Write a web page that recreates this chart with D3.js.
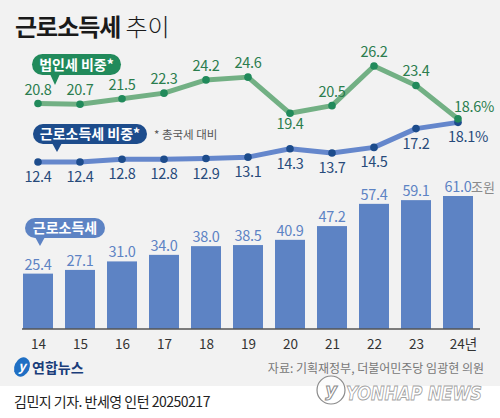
<!DOCTYPE html>
<html>
<head>
<meta charset="utf-8">
<script src="https://cdn.jsdelivr.net/npm/d3@7"></script>
<style>
  html, body { margin: 0; padding: 0; background: #fff; }
  svg { display: block; font-family: 'Noto Sans CJK KR', 'Noto Sans', sans-serif; }
</style>
</head>
<body>
<div id="chart"></div>
<script>
const years = ['14', '15', '16', '17', '18', '19', '20', '21', '22', '23', '24'];
const corpShare = [20.8, 20.7, 21.5, 22.3, 24.2, 24.6, 19.4, 20.5, 26.2, 23.4, 18.6];
const laborShare = [12.4, 12.4, 12.8, 12.8, 12.9, 13.1, 14.3, 13.7, 14.5, 17.2, 18.1];
const laborTax = [25.4, 27.1, 31.0, 34.0, 38.0, 38.5, 40.9, 47.2, 57.4, 59.1, 61.0];

const width = 500, height = 418;
const green = '#218a5b', greenLine = '#72b084', greenText = '#2b7d4e';
const navy = '#1d4c8c', blueLine = '#6587cc', navyText = '#274a7a';
const barColor = '#5d83c4';

const svg = d3.select('#chart').append('svg')
    .attr('width', width)
    .attr('height', height);

svg.append('rect')
    .attr('width', width)
    .attr('height', 386)
    .attr('fill', '#f2f2f2');

// title
const title = svg.append('text')
    .attr('x', 15)
    .attr('y', 36)
    .attr('font-size', 24)
    .attr('fill', '#1a1a1a');
title.append('tspan').attr('font-weight', 700).attr('letter-spacing', -1).text('근로소득세');
title.append('tspan').attr('font-weight', 300).attr('dx', 5).text('추이');

const x = d3.scalePoint().domain(years).range([38, 458]);
const yLine = d3.scaleLinear().domain([12.4, 26.2]).range([162, 66]);
const yBar = d3.scaleLinear().domain([0, 61]).range([329, 196]);

// bars
svg.append('g').selectAll('rect')
    .data(laborTax)
    .join('rect')
    .attr('x', (d, i) => x(years[i]) - 15)
    .attr('width', 30)
    .attr('y', d => yBar(d))
    .attr('height', d => yBar(0) - yBar(d))
    .attr('fill', barColor);

svg.append('g').selectAll('text')
    .data(laborTax)
    .join('text')
    .attr('x', (d, i) => x(years[i]))
    .attr('y', d => yBar(d) - 4)
    .attr('text-anchor', 'middle')
    .attr('font-size', 14.5)
    .attr('letter-spacing', -0.3)
    .attr('fill', barColor)
    .text(d => d.toFixed(1));

svg.append('text')
    .attr('x', x('24') + 13)
    .attr('y', yBar(61.0) - 4)
    .attr('font-size', 13)
    .attr('fill', '#8a8a8a')
    .text('조원');

// x axis
const axis = svg.append('g')
    .attr('transform', `translate(0,${yBar(0)})`)
    .call(d3.axisBottom(x).tickSize(0).tickPadding(8)
        .tickFormat(d => d === '24' ? '24년' : d));
axis.select('.domain')
    .attr('d', 'M22,0H480')
    .attr('stroke', '#555')
    .attr('stroke-width', 1.5);
axis.selectAll('text')
    .attr('font-family', "'Noto Sans CJK KR', sans-serif")
    .attr('font-size', 13.5)
    .attr('fill', '#333')
    .attr('dy', '0.9em');
axis.selectAll('.tick').filter(d => d === '24').select('text').attr('dx', 5);

// lines
const line = d3.line().x((d, i) => x(years[i])).y(d => yLine(d));

svg.append('path')
    .datum(laborShare)
    .attr('d', line)
    .attr('fill', 'none')
    .attr('stroke', blueLine)
    .attr('stroke-width', 5)
    .attr('stroke-linejoin', 'round');

svg.append('path')
    .datum(corpShare)
    .attr('d', line)
    .attr('fill', 'none')
    .attr('stroke', greenLine)
    .attr('stroke-width', 5)
    .attr('stroke-linejoin', 'round');

svg.append('g').selectAll('circle')
    .data(laborShare)
    .join('circle')
    .attr('cx', (d, i) => x(years[i]))
    .attr('cy', d => yLine(d))
    .attr('r', 3.8)
    .attr('fill', navy);

svg.append('g').selectAll('circle')
    .data(corpShare)
    .join('circle')
    .attr('cx', (d, i) => x(years[i]))
    .attr('cy', d => yLine(d))
    .attr('r', 3.8)
    .attr('fill', green);

// line labels
const last = years.length - 1;
svg.append('g').selectAll('text')
    .data(corpShare)
    .join('text')
    .attr('x', (d, i) => x(years[i]) + (i === last ? 16 : 0))
    .attr('y', (d, i) => yLine(d) + (years[i] === '20' ? 16 : i === last ? -7 : -9))
    .attr('text-anchor', 'middle')
    .attr('font-size', 14.5)
    .attr('letter-spacing', -0.3)
    .attr('fill', greenText)
    .text((d, i) => d.toFixed(1) + (i === last ? '%' : ''));

svg.append('g').selectAll('text')
    .data(laborShare)
    .join('text')
    .attr('x', (d, i) => x(years[i]) + (i === last ? 10 : 0))
    .attr('y', d => yLine(d) + 20)
    .attr('text-anchor', 'middle')
    .attr('font-size', 14.5)
    .attr('letter-spacing', -0.3)
    .attr('fill', navyText)
    .text((d, i) => d.toFixed(1) + (i === last ? '%' : ''));

// callout pills
function pill(x0, y0, w, h, tipX, tipY, fill, label, size) {
    const r = h / 2;
    const g = svg.append('g');
    g.append('rect')
        .attr('x', x0).attr('y', y0)
        .attr('width', w).attr('height', h)
        .attr('rx', r)
        .attr('fill', fill);
    g.append('path')
        .attr('d', `M${tipX - 5},${y0 + h - 1}L${tipX + 5},${y0 + h - 1}L${tipX},${tipY}Z`)
        .attr('fill', fill);
    g.append('text')
        .attr('x', x0 + w / 2)
        .attr('y', y0 + h / 2)
        .attr('dy', '0.36em')
        .attr('text-anchor', 'middle')
        .attr('font-size', size)
        .attr('font-weight', 700)
        .attr('fill', '#fff')
        .text(label);
}

pill(32, 54, 89, 21, 55, 85, green, '법인세 비중*', 14);
pill(33, 124, 114, 20, 57, 152, navy, '근로소득세 비중*', 14);
pill(25, 218, 80, 20, 40, 246, barColor, '근로소득세', 14);

svg.append('text')
    .attr('x', 154)
    .attr('y', 139)
    .attr('font-size', 11.5)
    .attr('fill', '#555')
    .text('* 총국세 대비');

// source
svg.append('text')
    .attr('x', 484)
    .attr('y', 373)
    .attr('text-anchor', 'end')
    .attr('font-size', 12)
    .attr('fill', '#777')
    .text('자료: 기획재정부, 더불어민주당 임광현 의원');

// logo
const logo = svg.append('g').attr('transform', 'translate(22,367)');
logo.append('ellipse')
    .attr('rx', 7.5).attr('ry', 10)
    .attr('transform', 'rotate(25)')
    .attr('fill', '#1f6fc4');
logo.append('text')
    .attr('x', 0).attr('y', 4)
    .attr('text-anchor', 'middle')
    .attr('font-size', 13)
    .attr('font-style', 'italic')
    .attr('font-weight', 700)
    .attr('fill', '#fff')
    .text('y');
logo.append('text')
    .attr('x', 10).attr('y', 6)
    .attr('font-size', 14)
    .attr('font-weight', 700)
    .attr('fill', '#1a3d7a')
    .text('연합뉴스');

// watermark
svg.append('circle')
    .attr('cx', 331).attr('cy', 390)
    .attr('r', 14)
    .attr('fill', '#fff')
    .attr('fill-opacity', 0.7)
    .attr('stroke', '#8a8a8a')
    .attr('stroke-width', 1.2);

svg.append('text')
    .attr('x', 331).attr('y', 396)
    .attr('text-anchor', 'middle')
    .attr('font-family', "'DejaVu Sans', sans-serif")
    .attr('font-size', 18)
    .attr('font-weight', 700)
    .attr('font-style', 'italic')
    .attr('fill', '#fff')
    .attr('stroke', '#8a8a8a')
    .attr('stroke-width', 1)
    .text('y');

svg.append('text')
    .attr('x', 346)
    .attr('y', 400)
    .attr('textLength', 136)
    .attr('lengthAdjust', 'spacingAndGlyphs')
    .attr('font-family', "'DejaVu Sans', sans-serif")
    .attr('font-size', 20)
    .attr('font-weight', 700)
    .attr('font-style', 'italic')
    .attr('fill', '#ffffff')
    .attr('fill-opacity', 0.8)
    .attr('stroke', '#8a8a8a')
    .attr('stroke-width', 1)
    .attr('stroke-opacity', 0.8)
    .text('YONHAP NEWS');

// credit
svg.append('text')
    .attr('x', 14)
    .attr('y', 407)
    .attr('font-size', 14)
    .attr('letter-spacing', -0.5)
    .attr('fill', '#222')
    .text('김민지 기자. 반세영 인턴 20250217');
</script>
</body>
</html>
